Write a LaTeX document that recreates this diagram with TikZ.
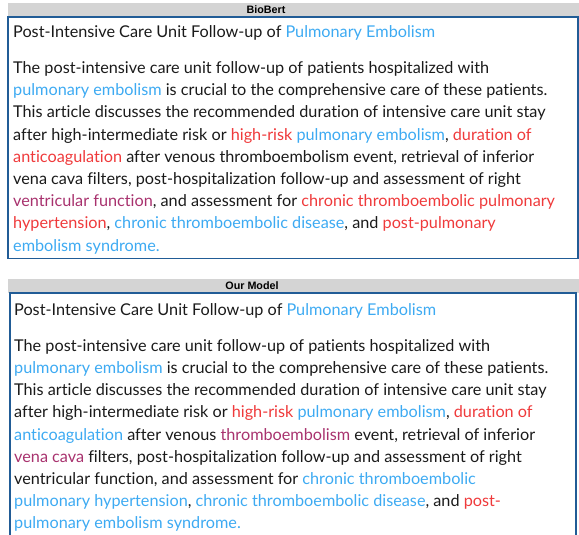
\documentclass[tikz,border=0pt]{standalone}
\usepackage{fontspec}
\setmainfont{Lato}[Ligatures={NoCommon}]
\setsansfont{Liberation Sans}
\usetikzlibrary{positioning}

\definecolor{termblue}{HTML}{3DAAF2}
\definecolor{termred}{HTML}{EF3A3B}
\definecolor{termplum}{HTML}{A8326E}
\definecolor{frameblue}{HTML}{215C96}
\definecolor{headgray}{HTML}{D4D4D4}
\definecolor{inkgray}{HTML}{1A1A1A}

\newcommand{\tblue}[1]{\textcolor{termblue}{#1}}
\newcommand{\tred}[1]{\textcolor{termred}{#1}}
\newcommand{\tplum}[1]{\textcolor{termplum}{#1}}

\tikzset{
  headtext/.style={font=\sffamily\bfseries\fontsize{10.8}{12}\selectfont, inner sep=0},
  bodyline/.style={anchor=base west, inner sep=0, text=inkgray, font=\fontsize{16.3}{22}\selectfont},
}

\begin{document}
\begin{tikzpicture}[x=1bp,y=-1bp]
    \useasboundingbox (0,0) rectangle (579,535);
    \clip (0,0) rectangle (579,535);

    % BioBert panel
    \fill[headgray] (8,3) rectangle (579,17);
    \node[headtext] (bbhead) at (266,10) {BioBert};
    \draw[frameblue, line width=1.3bp] (8,17) rectangle (578,258.5);
    \node[bodyline] (bbtitle) at (13,37.5) {Post-Intensive Care Unit Follow-up of \tblue{Pulmonary Embolism}};
    \foreach \txt [count=\i] in {
        {The post-intensive care unit follow-up of patients hospitalized with},
        {\tblue{pulmonary embolism} is crucial to the comprehensive care of these patients.},
        {This article discusses the recommended duration of intensive care unit stay},
        {after high-intermediate risk or \tred{high-risk} \tblue{pulmonary embolism}, \tred{duration of}},
        {\tred{anticoagulation} after venous thromboembolism event, retrieval of inferior},
        {vena cava filters, post-hospitalization follow-up and assessment of right},
        {\tplum{ventricular function}, and assessment for \tred{chronic thromboembolic pulmonary}},
        {\tred{hypertension}, \tblue{chronic thromboembolic disease}, and \tred{post-pulmonary}},
        {\tblue{embolism syndrome.}}}
        \node[bodyline] (bb\i) at (13,{51.3+22.2*\i}) {\txt};

    % Our Model panel
    \fill[headgray] (8,279) rectangle (579,293);
    \node[headtext] (omhead) at (252,286) {Our Model};
    \draw[frameblue, line width=1.3bp] (10,293) rectangle (576,545);
    \node[bodyline] (omtitle) at (14,315.5) {Post-Intensive Care Unit Follow-up of \tblue{Pulmonary Embolism}};
    \foreach \txt [count=\i] in {
        {The post-intensive care unit follow-up of patients hospitalized with},
        {\tblue{pulmonary embolism} is crucial to the comprehensive care of these patients.},
        {This article discusses the recommended duration of intensive care unit stay},
        {after high-intermediate risk or \tred{high-risk} \tblue{pulmonary embolism}, \tred{duration of}},
        {\tblue{anticoagulation} after venous \tplum{thromboembolism} event, retrieval of inferior},
        {\tplum{vena cava} filters, post-hospitalization follow-up and assessment of right},
        {ventricular function, and assessment for \tblue{chronic thromboembolic}},
        {\tblue{pulmonary hypertension}, \tblue{chronic thromboembolic disease}, and \tred{post-}},
        {\tblue{pulmonary embolism syndrome.}}}
        \node[bodyline] (om\i) at (14,{329+22.2*\i}) {\txt};
\end{tikzpicture}
\end{document}
